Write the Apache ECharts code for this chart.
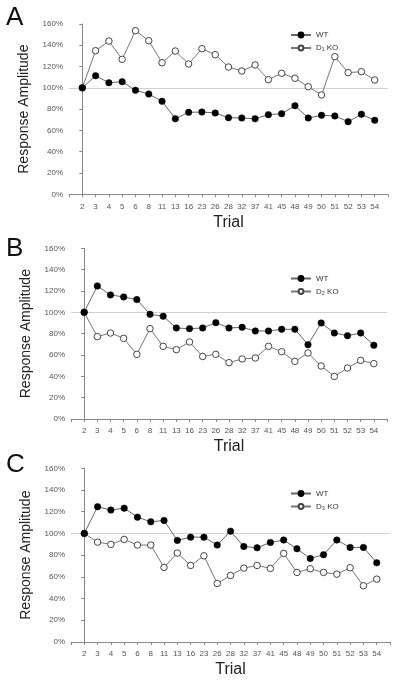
<!DOCTYPE html>
<html>
<head>
<meta charset="utf-8">
<script src="https://cdn.jsdelivr.net/npm/echarts@6/dist/echarts.min.js"></script>
<style>html,body{margin:0;padding:0;background:#fff}#c{width:400px;height:682px}</style>
</head>
<body>
<div id="c"></div>
<script>
const trials = ['2','3','4','5','6','8','11','13','16','23','26','28','32','37','41','45','48','49','50','51','52','53','54'];
const yTicks = [0, 20, 40, 60, 80, 100, 120, 140, 160];
const panelLetters = ['A', 'B', 'C'];
const koNames = ['D\u2081 KO', 'D\u2082 KO', 'D\u2083 KO'];

const wtA = [100,111.4,104.8,105.8,97.7,94.2,87.4,71.0,77.0,77.3,76.4,72.0,71.7,71.0,74.8,75.7,83.2,71.7,74.2,73.6,68.2,75.2,69.5];
const koA = [100,134.9,144.0,126.8,153.7,144.3,123.6,134.6,122.4,136.8,131.2,119.6,115.8,121.5,107.7,113.7,109.0,101.1,93.3,129.3,114.3,115.2,107.4];
const wtB = [100,124.7,116.3,114.4,111.9,98.1,96.3,85.3,84.7,85.3,90.3,85.3,85.9,82.5,82.5,84.1,84.1,69.7,90.0,80.6,78.1,80.6,69.1];
const koB = [100,77.2,80.6,75.6,60.6,84.7,68.1,65.0,72.2,58.6,60.6,52.8,56.3,57.2,68.1,63.1,54.0,61.9,49.7,39.9,47.8,55.0,51.9];
const wtC = [100,124.6,121.5,123.3,115.0,110.7,112.0,93.6,96.6,96.6,89.3,102.1,88.0,86.8,91.7,93.9,85.9,77.0,80.4,93.9,87.1,87.1,73.0];
const koC = [100,92.0,89.9,94.5,89.3,89.3,68.7,81.9,70.5,79.4,53.9,61.3,68.1,70.5,67.8,81.6,64.1,67.5,64.1,62.5,68.4,51.8,57.9];

const wtData = [wtA, wtB, wtC];
const koData = [koA, koB, koC];

const grids = [
  {left: 69, right: 12, top: 24, height: 170.3},
  {left: 71, right: 13, top: 248.3, height: 170.7},
  {left: 71, right: 10, top: 468.3, height: 173.7}
];
const legendTops = [26, 269.5, 484.5];
const letterTops = [5, 236, 452];

const FONT = 'Liberation Sans, Arial, sans-serif';
const chart = echarts.init(document.getElementById('c'), null, {renderer: 'canvas'});

const xAxes = [], yAxes = [], series = [], legends = [], graphics = [];
for (let p = 0; p < 3; p++) {
  xAxes.push({
    type: 'value', gridIndex: p, min: -1, max: 23, interval: 1,
    name: 'Trial', nameLocation: 'middle', nameGap: 20,
    nameTextStyle: {fontFamily: FONT, fontSize: 16, color: '#222'},
    axisLine: {show: true, lineStyle: {color: '#888', width: 1}},
    axisTick: {show: true, length: 3, lineStyle: {color: '#888'}},
    axisLabel: {
      fontFamily: FONT, fontSize: 8, color: '#555', margin: 8,
      formatter: v => (Number.isInteger(v) && v >= 0 && v < trials.length) ? trials[v] : ''
    },
    splitLine: {show: false}
  });
  yAxes.push({
    type: 'value', gridIndex: p, min: yTicks[0], max: yTicks[yTicks.length - 1], interval: yTicks[1] - yTicks[0],
    name: 'Response Amplitude', nameLocation: 'middle', nameGap: 37,
    nameTextStyle: {fontFamily: FONT, fontSize: 14, color: '#222'},
    axisLine: {show: true, lineStyle: {color: '#888', width: 1}},
    axisTick: {show: true, length: 3, lineStyle: {color: '#888'}},
    axisLabel: {fontFamily: FONT, fontSize: 8, color: '#555', margin: 6, formatter: v => v + '%'},
    splitLine: {show: false}
  });
  series.push({
    name: koNames[p], type: 'line', xAxisIndex: p, yAxisIndex: p,
    data: koData[p].map((v, i) => [i, v]),
    symbol: 'circle', symbolSize: 6.5,
    itemStyle: {color: '#fff', borderColor: '#444', borderWidth: 1},
    lineStyle: {color: '#777', width: 1},
    z: 2,
    markLine: {
      silent: true, symbol: 'none', label: {show: false},
      lineStyle: {color: '#d0d0d0', type: 'solid', width: 1},
      data: [{yAxis: 100}], z: 1
    }
  });
  series.push({
    name: 'WT', type: 'line', xAxisIndex: p, yAxisIndex: p,
    data: wtData[p].map((v, i) => [i, v]),
    symbol: 'circle', symbolSize: 6.5,
    itemStyle: {color: '#000', borderColor: '#000', borderWidth: 0.5},
    lineStyle: {color: '#666', width: 1},
    z: 3
  });
  legends.push({
    orient: 'vertical', left: 285, top: legendTops[p],
    data: ['WT', koNames[p]],
    itemWidth: 20, itemHeight: 6, itemGap: 5, selectedMode: false,
    textStyle: {fontFamily: FONT, fontSize: 8, color: '#333', lineHeight: 8}
  });
  graphics.push({
    type: 'text', left: 6, top: letterTops[p],
    style: {text: panelLetters[p], font: '26px ' + FONT, fill: '#111'}
  });
}

chart.setOption({
  animation: false,
  backgroundColor: '#fff',
  grid: grids,
  xAxis: xAxes,
  yAxis: yAxes,
  series: series,
  legend: legends,
  graphic: graphics
});
</script>
</body>
</html>
